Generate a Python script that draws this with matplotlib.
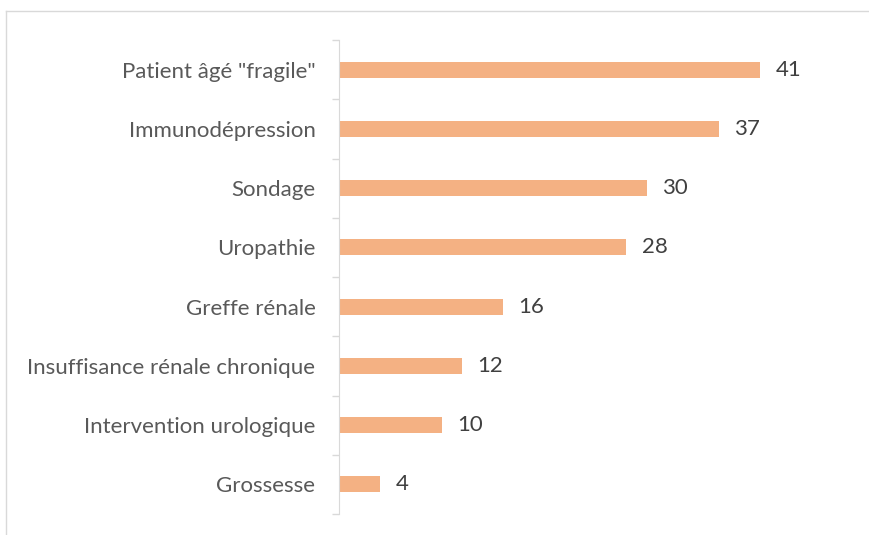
import matplotlib
matplotlib.use("Agg")
import matplotlib.pyplot as plt
from matplotlib.lines import Line2D

categories = ["Patient âgé \"fragile\"", "Immunodépression", "Sondage", "Uropathie",
              "Greffe rénale", "Insuffisance rénale chronique",
              "Intervention urologique", "Grossesse"]
values = [41, 37, 30, 28, 16, 12, 10, 4]

plt.rcParams['font.family'] = ['Lato', 'DejaVu Sans']

fig = plt.figure(figsize=(8.69, 5.35), dpi=100)
ax = fig.add_axes([339 / 869, 1 - 514 / 535, (801 - 339) / 869, (514 - 40) / 535])

n = len(categories)
ypos = list(range(n))[::-1]
ax.barh(ypos, values, height=0.27, color="#F4B183")
for y, v in zip(ypos, values):
    ax.text(v + 1.5, y, f"{v}", va="center", ha="left", fontsize=16, color="#404040")

ax.set_xlim(0, 45)
ax.set_ylim(-0.5, n - 0.5)
ax.set_yticks(ypos)
ax.set_yticklabels(categories, fontsize=16, color="#595959")
ax.tick_params(axis="y", length=0, pad=17)
ax.set_xticks([])
# tick marks at category boundaries
ax.set_yticks([i - 0.5 for i in range(n + 1)], minor=True)
ax.tick_params(axis="y", which="minor", length=5, color="#d9d9d9", width=1)
for s in ["top", "right", "bottom"]:
    ax.spines[s].set_visible(False)
ax.spines["left"].set_color("#d9d9d9")

# outer chart border (top and left only visible)
fig.add_artist(Line2D([6 / 869, 6 / 869], [0, 1 - 10.5 / 535], color="#d9d9d9", lw=1))
fig.add_artist(Line2D([6 / 869, 1], [1 - 10.5 / 535, 1 - 10.5 / 535], color="#d9d9d9", lw=1))

fig.savefig("out.png", dpi=100, facecolor="white")
